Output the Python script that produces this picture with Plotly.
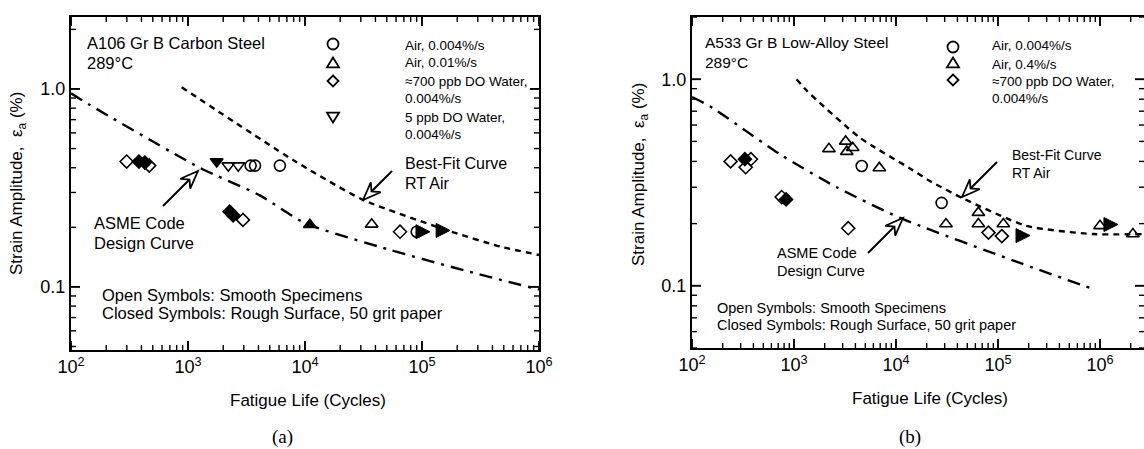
import plotly.graph_objects as go
import math

W, H = 1144, 449
FONT = "Liberation Sans, Arial, sans-serif"
SERIF = "Liberation Serif, Times New Roman, serif"

# ---------------- Panel (a): A106 Gr B Carbon Steel ----------------
a_air1_N = [3430, 3740, 6100, 90100]
a_air1_e = [0.41, 0.41, 0.41, 0.19]
a_air2_open_N = [37150]
a_air2_open_e = [0.207]
a_air2_fill_N = [11000]
a_air2_fill_e = [0.206]
a_hido_open_N = [299, 466, 2950, 64900]
a_hido_open_e = [0.43, 0.41, 0.218, 0.19]
a_hido_fill_N = [381, 428, 2270, 2430]
a_hido_fill_e = [0.43, 0.425, 0.24, 0.23]
a_lodo_open_N = [2210, 2690]
a_lodo_open_e = [0.41, 0.41]
a_lodo_fill_N = [1760]
a_lodo_fill_e = [0.43]
a_runout_N = [117000, 174000]
a_runout_e = [0.19, 0.193]
a_asme_N = [100, 145, 1260, 4120, 10000, 53000, 273000, 1000000]
a_asme_e = [0.95, 0.83, 0.40, 0.29, 0.21, 0.154, 0.118, 0.097]
a_fit_N = [883, 7900, 31500, 179000, 464000, 1000000]
a_fit_e = [1.02, 0.438, 0.275, 0.19, 0.16, 0.145]

# ---------------- Panel (b): A533 Gr B Low-Alloy Steel ----------------
b_air1_N = [4610, 28000]
b_air1_e = [0.38, 0.252]
b_air2_N = [2200, 3210, 3290, 3760, 6860, 30900, 64200, 64200, 112800, 1000000, 2100000]
b_air2_e = [0.46, 0.50, 0.446, 0.466, 0.372, 0.199, 0.226, 0.199, 0.199, 0.195, 0.178]
b_hido_open_N = [239, 336, 378, 757, 3400, 80600, 109000]
b_hido_open_e = [0.40, 0.375, 0.41, 0.269, 0.19, 0.181, 0.174]
b_hido_fill_N = [330, 836]
b_hido_fill_e = [0.41, 0.262]
b_runout_N = [206000, 1500000]
b_runout_e = [0.175, 0.198]
b_asme_N = [100, 150, 729, 2620, 11000, 164000, 850000]
b_asme_e = [0.82, 0.74, 0.433, 0.30, 0.213, 0.129, 0.0966]
b_fit_N = [1060, 1334, 4440, 13700, 20700, 44000, 190000, 850000, 2600000]
b_fit_e = [1.0, 0.88, 0.52, 0.37, 0.325, 0.267, 0.195, 0.178, 0.178]

# axis ranges (log10) and pixel extents of the two plot areas
A_XR = [2, 6]
A_YR = [math.log10(0.048), math.log10(2.31)]
B_XR = [2, 2 + 452 / 102]
B_YR = [math.log10(0.05), math.log10(2.0)]
A_BOX = (71, 539, 17, 350)   # left, right, top, bottom (px)
B_BOX = (692, 1144, 17, 348)

fig = go.Figure()


def pts(N, e, xa, ya, symbol, size=11, lw=1.6):
    fig.add_trace(go.Scatter(x=N, y=e, xaxis=xa, yaxis=ya, mode="markers",
                             marker=dict(symbol=symbol, size=size, color="black",
                                         line=dict(color="black", width=lw)),
                             showlegend=False, hoverinfo="skip"))


def curve(N, e, xa, ya, dash):
    fig.add_trace(go.Scatter(x=N, y=e, xaxis=xa, yaxis=ya, mode="lines",
                             line=dict(color="black", width=2.4, dash=dash, shape="spline", smoothing=0.6),
                             showlegend=False, hoverinfo="skip"))


DASH = "6px,5px"
DASHDOT = "13px,7px,3px,7px"

# panel a
curve(a_asme_N, a_asme_e, "x", "y", DASHDOT)
curve(a_fit_N, a_fit_e, "x", "y", DASH)
pts(a_air1_N, a_air1_e, "x", "y", "circle-open")
pts(a_air2_open_N, a_air2_open_e, "x", "y", "triangle-up-open")
pts(a_air2_fill_N, a_air2_fill_e, "x", "y", "triangle-up")
pts(a_hido_open_N, a_hido_open_e, "x", "y", "diamond-open", 10)
pts(a_hido_fill_N, a_hido_fill_e, "x", "y", "diamond", 10)
pts(a_lodo_open_N, a_lodo_open_e, "x", "y", "triangle-down-open")
pts(a_lodo_fill_N, a_lodo_fill_e, "x", "y", "triangle-down")
pts(a_runout_N, a_runout_e, "x", "y", "arrow-right", 14, 1)

# panel b
curve(b_asme_N, b_asme_e, "x2", "y2", DASHDOT)
curve(b_fit_N, b_fit_e, "x2", "y2", DASH)
pts(b_air1_N, b_air1_e, "x2", "y2", "circle-open")
pts(b_air2_N, b_air2_e, "x2", "y2", "triangle-up-open")
pts(b_hido_open_N, b_hido_open_e, "x2", "y2", "diamond-open", 10)
pts(b_hido_fill_N, b_hido_fill_e, "x2", "y2", "diamond", 10)
pts(b_runout_N, b_runout_e, "x2", "y2", "arrow-right", 14, 1)


def PX(x):
    return x / W


def PY(y):
    return 1 - y / H


shapes = []


def seg(x0, y0, x1, y1, lw):
    shapes.append(dict(type="line", xref="paper", yref="paper",
                       x0=PX(x0), y0=PY(y0), x1=PX(x1), y1=PY(y1),
                       line=dict(color="black", width=lw)))


def poly(points, fill="rgba(0,0,0,0)", lw=1.8):
    path = "M" + " L".join(f"{PX(a):.5f},{PY(b):.5f}" for a, b in points) + " Z"
    shapes.append(dict(type="path", xref="paper", yref="paper", path=path,
                       fillcolor=fill, line=dict(color="black", width=lw)))


def key(kind, x, y, r=5.5):
    if kind == "circle":
        shapes.append(dict(type="circle", xref="paper", yref="paper",
                           x0=PX(x - r), x1=PX(x + r), y0=PY(y + r), y1=PY(y - r),
                           line=dict(color="black", width=1.8)))
    elif kind == "up":
        poly([(x, y - r), (x + r * 1.1, y + r * 0.8), (x - r * 1.1, y + r * 0.8)])
    elif kind == "down":
        poly([(x, y + r), (x + r * 1.1, y - r * 0.8), (x - r * 1.1, y - r * 0.8)])
    elif kind == "diamond":
        poly([(x, y - r), (x + r, y), (x, y + r), (x - r, y)])


for k, yy in zip(["circle", "up", "diamond", "down"], [44, 63, 81, 117]):
    key(k, 333, yy)
for k, yy in zip(["circle", "up", "diamond"], [47, 63, 80]):
    key(k, 953, yy)


# inward tick marks on all four sides (major = decades, minor = 2..9),
# placed from the same log ranges as the axes
def add_ticks(xr, yr, box):
    left, right, top, bottom = box
    wpx, hpx = right - left, bottom - top
    for k in range(-3, 8):
        for d in range(1, 10):
            lv = k + math.log10(d)
            L = 9 if d == 1 else 5
            lw = 1.9 if d == 1 else 1.4
            fx = (lv - xr[0]) / (xr[1] - xr[0])
            if -1e-9 <= fx <= 1 + 1e-9:
                xp = left + fx * wpx
                seg(xp, bottom, xp, bottom - L, lw)
                seg(xp, top, xp, top + L, lw)
            fy = (lv - yr[0]) / (yr[1] - yr[0])
            if -1e-9 <= fy <= 1 + 1e-9:
                yp = bottom - fy * hpx
                seg(left, yp, left + L, yp, lw)
                seg(right, yp, right - L, yp, lw)


add_ticks(A_XR, A_YR, A_BOX)
add_ticks(B_XR, B_YR, B_BOX)

ann = []


def txt(x, y, s, size, xanchor="left", family=FONT, angle=0):
    ann.append(dict(x=PX(x), y=PY(y), xref="paper", yref="paper", text=s, showarrow=False,
                    xanchor=xanchor, yanchor="middle", textangle=angle,
                    font=dict(family=family, size=size, color="black")))


txt(85, 43, "A106 Gr B Carbon Steel", 16.5)
txt(85, 63, "289°C", 16.5)
for yy, s in zip([45, 63, 81, 99, 117, 134],
                 ["Air, 0.004%/s", "Air, 0.01%/s", "≈700 ppb DO Water,", "0.004%/s",
                  "5 ppb DO Water,", "0.004%/s"]):
    txt(403, yy, s, 13.5)
txt(403, 163, "Best-Fit Curve", 16)
txt(403, 183, "RT Air", 16)
txt(92, 223, "ASME Code", 16.5)
txt(92, 243, "Design Curve", 16.5)
txt(100, 295, "Open Symbols: Smooth Specimens", 16.5)
txt(100, 313, "Closed Symbols: Rough Surface, 50 grit paper", 16.5)
txt(308, 400, "Fatigue Life (Cycles)", 17, "center")
txt(18, 184, "Strain Amplitude,  ε<sub>a</sub> (%)", 17, "center", angle=-90)
txt(282, 437, "(a)", 19, "center", SERIF)

txt(703, 43, "A533 Gr B Low-Alloy Steel", 15.5)
txt(703, 63, "289°C", 15.5)
for yy, s in zip([46, 64, 81, 99],
                 ["Air, 0.004%/s", "Air, 0.4%/s", "≈700 ppb DO Water,", "0.004%/s"]):
    txt(990, yy, s, 13.5)
txt(1010, 155, "Best-Fit Curve", 14)
txt(1010, 173, "RT Air", 14)
txt(775, 253, "ASME Code", 14.5)
txt(775, 271, "Design Curve", 14.5)
txt(715, 308, "Open Symbols: Smooth Specimens", 14.5)
txt(715, 325, "Closed Symbols: Rough Surface, 50 grit paper", 14.5)
txt(930, 398, "Fatigue Life (Cycles)", 17, "center")
txt(640, 175, "Strain Amplitude,  ε<sub>a</sub> (%)", 17, "center", angle=-90)
txt(910, 437, "(b)", 19, "center", SERIF)


def hollow_arrow(tail, tip, L=18, w=7, notch=6):
    tx, ty = tip
    sx, sy = tail
    d = math.hypot(tx - sx, ty - sy)
    ux, uy = (tx - sx) / d, (ty - sy) / d
    px, py = -uy, ux
    bx, by = tx - ux * L, ty - uy * L
    nx, ny = tx - ux * (L - notch), ty - uy * (L - notch)
    seg(sx, sy, nx, ny, 2)
    poly([(tx, ty), (bx + px * w, by + py * w), (nx, ny), (bx - px * w, by - py * w)],
         fill="white")


hollow_arrow((163, 206), (198, 171))
hollow_arrow((392, 171), (363, 200))
hollow_arrow((868, 253), (903, 218))
hollow_arrow((997, 162), (962, 197))

axis_common = dict(type="log", showline=True, linecolor="black", linewidth=2.2,
                   ticks="", showgrid=False, zeroline=False, dtick=1, mirror=True)
xfmt = dict(exponentformat="power", showexponent="all",
            tickfont=dict(family=FONT, size=14.5, color="black"))
yfmt = dict(tickformat=".1f", tickfont=dict(family=FONT, size=18, color="black"))


def dom_x(box):
    return [box[0] / W, box[1] / W]


def dom_y(box):
    return [1 - box[3] / H, 1 - box[2] / H]


fig.update_layout(
    width=W, height=H, margin=dict(l=0, r=0, t=0, b=0), autosize=False,
    template="none", paper_bgcolor="white", plot_bgcolor="white",
    showlegend=False,
    xaxis=dict(axis_common, **xfmt, domain=dom_x(A_BOX), range=A_XR, anchor="y"),
    yaxis=dict(axis_common, **yfmt, domain=dom_y(A_BOX), range=A_YR, anchor="x"),
    xaxis2=dict(axis_common, **xfmt, domain=dom_x(B_BOX), range=B_XR, anchor="y2"),
    yaxis2=dict(axis_common, **yfmt, domain=dom_y(B_BOX), range=B_YR, anchor="x2"),
    annotations=ann, shapes=shapes,
)

fig.write_html("out.html")
